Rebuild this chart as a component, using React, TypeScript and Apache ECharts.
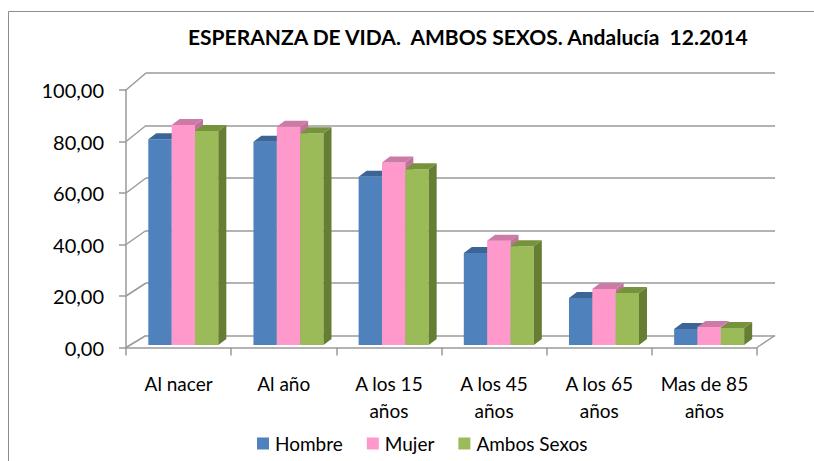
import React, { useEffect, useRef } from "react";
import * as echarts from "echarts";

const categories = ["Al nacer", "Al año", "A los 15\naños", "A los 45\naños", "A los 65\naños", "Mas de 85\naños"];
const hombre = [79.7, 78.8, 65.2, 35.7, 18.2, 6.2];
const mujer = [85.3, 84.6, 70.7, 40.4, 21.7, 7.0];
const ambos = [82.9, 82.1, 68.1, 38.3, 20.2, 6.6];
const seriesNames = ["Hombre", "Mujer", "Ambos Sexos"];
const yTicks = [0, 20, 40, 60, 80, 100];
const titleText = "ESPERANZA DE VIDA.  AMBOS SEXOS. Andalucía  12.2014";

const FONT = "Lato";
const GRID_BACK = { left: 146, right: 39, top: 73, bottom: 125.5 };
const GRID_FRONT = { left: 126, right: 57, top: 90, bottom: 113.5 };
const GRID_BARS = { left: 126, right: 57, top: 87, bottom: 116 };
const LINE = "#9a9a9a";

const PALETTE = [
  { front: "#4F81BD", top: "#3B6596", side: "#385D8A" },
  { front: "#FF99CC", top: "#CC7AA6", side: "#C0739A" },
  { front: "#9BBB59", top: "#76923C", side: "#667E34" },
];

export default function App() {
  const ref = useRef<HTMLDivElement>(null);
  useEffect(() => {
    if (!ref.current) return;
    const chart = echarts.init(ref.current, null, { renderer: "svg" });
    const makeBar = (name: string, data: number[], k: number) => {
      const c = PALETTE[k];
      return {
        type: "custom",
        name,
        xAxisIndex: 2,
        yAxisIndex: 2,
        itemStyle: { color: c.front },
        data: data.map((v, i) => [i, v]),
        encode: { x: 0, y: 1 },
        renderItem: (params: any, api: any) => {
          const i = api.value(0);
          const v = api.value(1);
          const b = api.coord([i, 0]);
          const t = api.coord([i, v]);
          const band = api.size([1, 0])[0];
          const w = band * 0.222;
          const x0 = b[0] - band / 2 + band * 0.212 + k * w;
          const x1 = x0 + w;
          const dx = band * 0.076;
          const dy = -6;
          return {
            type: "group",
            children: [
              { type: "rect", shape: { x: x0, y: t[1], width: w, height: b[1] - t[1] }, style: { fill: c.front } },
              {
                type: "polygon",
                shape: { points: [[x1, b[1]], [x1, t[1]], [x1 + dx, t[1] + dy], [x1 + dx, b[1] + dy]] },
                style: { fill: c.side },
              },
              {
                type: "polygon",
                shape: { points: [[x0, t[1]], [x1, t[1]], [x1 + dx, t[1] + dy], [x0 + dx, t[1] + dy]] },
                style: { fill: c.top },
              },
            ],
          };
        },
      };
    };

    chart.setOption({
      animation: false,
      backgroundColor: "#ffffff",
      title: {
        text: titleText,
        left: 183,
        top: 21,
        textStyle: { fontFamily: FONT, fontSize: 21, fontWeight: "bold", color: "#000" },
      },
      legend: {
        data: seriesNames,
        left: 252,
        top: 429,
        icon: "rect",
        itemWidth: 12,
        itemHeight: 12,
        itemGap: 24,
        textStyle: { fontFamily: FONT, fontSize: 19, color: "#000", padding: [0, 0, 0, 1] },
      },
      grid: [
        { ...GRID_BACK },
        { ...GRID_FRONT },
        { ...GRID_BARS },
      ],
      xAxis: [
        { type: "category", gridIndex: 0, data: categories, show: false },
        {
          type: "category",
          gridIndex: 1,
          data: categories,
          axisLine: { show: true, lineStyle: { color: LINE, width: 1.5 } },
          axisTick: { show: true, length: 8, lineStyle: { color: LINE, width: 1.5 } },
          axisLabel: { fontFamily: FONT, fontSize: 19, color: "#000", margin: 22, lineHeight: 27, interval: 0 },
        },
        { type: "category", gridIndex: 2, data: categories, show: false },
      ],
      yAxis: [
        {
          type: "value",
          gridIndex: 0,
          min: 0,
          max: 100,
          interval: 20,
          axisLabel: { show: false },
          axisLine: { show: false },
          axisTick: { show: false },
          splitLine: { show: true, lineStyle: { color: LINE, width: 1.5 } },
        },
        {
          type: "value",
          gridIndex: 1,
          min: 0,
          max: 100,
          interval: 20,
          axisLine: { show: true, lineStyle: { color: LINE, width: 1.5 } },
          axisTick: { show: true, length: 7, lineStyle: { color: LINE, width: 1.5 } },
          splitLine: { show: false },
          axisLabel: {
            fontFamily: FONT,
            fontSize: 20,
            color: "#000",
            margin: 22,
            formatter: (v: number) => v.toFixed(2).replace(".", ","),
          },
        },
        { type: "value", gridIndex: 2, min: 0, max: 100, show: false, splitLine: { show: false } },
      ],
      series: [makeBar(seriesNames[0], hombre, 0), makeBar(seriesNames[1], mujer, 1), makeBar(seriesNames[2], ambos, 2)],
    });

    const W = 814;
    const graphics: any[] = [
      {
        type: "rect",
        silent: true,
        shape: { x: 8.5, y: 11.5, width: 900, height: 600 },
        style: { fill: "none", stroke: "#8c8c8c", lineWidth: 1 },
      },
    ];
    yTicks.forEach((v) => {
      const yf = chart.convertToPixel({ yAxisIndex: 1 } as any, v) as unknown as number;
      const yb = chart.convertToPixel({ yAxisIndex: 0 } as any, v) as unknown as number;
      graphics.push({
        type: "line",
        silent: true,
        shape: { x1: GRID_FRONT.left, y1: yf, x2: GRID_BACK.left, y2: yb },
        style: { stroke: LINE, lineWidth: 1.5 },
      });
    });
    const y0f = chart.convertToPixel({ yAxisIndex: 1 } as any, 0) as unknown as number;
    const y0b = chart.convertToPixel({ yAxisIndex: 0 } as any, 0) as unknown as number;
    graphics.push({
      type: "line",
      silent: true,
      shape: { x1: W - GRID_FRONT.right, y1: y0f, x2: W - GRID_BACK.right, y2: y0b },
      style: { stroke: LINE, lineWidth: 1.5 },
    });
    chart.setOption({ graphic: graphics });

    return () => chart.dispose();
  }, []);
  return <div ref={ref} style={{ position: "fixed", left: 0, top: 0, width: 814, height: 461 }} />;
}
